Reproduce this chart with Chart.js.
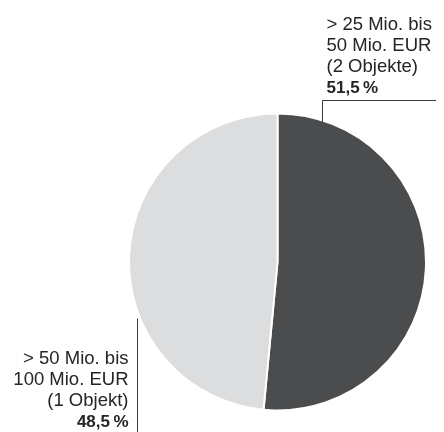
<!DOCTYPE html>
<html>
<head>
<meta charset="utf-8">
<script src="https://cdn.jsdelivr.net/npm/chart.js@4/dist/chart.umd.min.js"></script>
<style>
  html, body { margin: 0; padding: 0; background: #fff; }
  #wrap { width: 444px; height: 432px; position: relative; }
</style>
</head>
<body>
<div id="wrap"><canvas id="pie"></canvas></div>
<script>
// ========
// Data
// ========
const categories = [
    ["> 25 Mio. bis", "50 Mio. EUR", "(2 Objekte)"],
    ["> 50 Mio. bis", "100 Mio. EUR", "(1 Objekt)"]
];
const shares = [51.5, 48.5];
const shareLabels = ["51,5\u2009%", "48,5\u2009%"];
const sliceColors = ["#4b4c4e", "#dcdddf"];

const FONT = "Liberation Sans, Arial, Helvetica, sans-serif";
const LINE_H = 21;
const TEXT_FONT = "18.5px " + FONT;
const PCT_FONT = "bold 17px " + FONT;

// ── Leader lines + labels, anchored on the pie geometry ──
const labelPlugin = {
    id: "pieLabels",
    afterDraw(chart) {
        const ctx = chart.ctx;
        const arc = chart.getDatasetMeta(0).data[0];
        const { x: cx, y: cy, outerRadius: r } = arc.getProps(["x", "y", "outerRadius"], true);
        ctx.save();
        ctx.strokeStyle = "#3a3a3a";
        ctx.lineWidth = 1;
        ctx.fillStyle = "#262425";
        ctx.textBaseline = "alphabetic";

        // top-right label (first slice)
        const ax = Math.round(cx + r * 0.3) + 0.5;
        const edgeY = cy - Math.sqrt(r * r - (ax - cx) * (ax - cx));
        const topY = Math.round(cy - r - 14) + 0.5;
        ctx.beginPath();
        ctx.moveTo(ax, edgeY + 2);
        ctx.lineTo(ax, topY);
        ctx.lineTo(chart.width - 8, topY);
        ctx.stroke();
        ctx.textAlign = "left";
        const lines0 = categories[0];
        let y = topY - 8;
        ctx.font = PCT_FONT;
        ctx.fillText(shareLabels[0], ax + 4, y);
        ctx.font = TEXT_FONT;
        for (let i = lines0.length - 1; i >= 0; i--) {
            y -= LINE_H;
            ctx.fillText(lines0[i], ax + 4, y);
        }

        // bottom-left label (second slice)
        const bx = Math.round(cx - r * 0.946) + 0.5;
        const edgeY2 = cy + Math.sqrt(Math.max(r * r - (bx - cx) * (bx - cx), 0));
        ctx.beginPath();
        ctx.moveTo(bx, edgeY2 + 7);
        ctx.lineTo(bx, chart.height);
        ctx.stroke();
        ctx.textAlign = "right";
        const lines1 = categories[1];
        let y2 = chart.height - 5;
        ctx.font = PCT_FONT;
        ctx.fillText(shareLabels[1], bx - 9, y2);
        ctx.font = TEXT_FONT;
        for (let i = lines1.length - 1; i >= 0; i--) {
            y2 -= LINE_H;
            ctx.fillText(lines1[i], bx - 9, y2);
        }
        ctx.restore();
    }
};

new Chart(document.getElementById("pie"), {
    type: "pie",
    data: {
        labels: categories.map(c => c.join(" ")),
        datasets: [{
            data: shares,
            backgroundColor: sliceColors,
            borderColor: "#ffffff",
            borderWidth: 2
        }]
    },
    options: {
        responsive: true,
        maintainAspectRatio: false,
        animation: false,
        rotation: 0,
        layout: { padding: { left: 128, right: 17, top: 112, bottom: 20 } },
        plugins: {
            legend: { display: false },
            tooltip: { enabled: false }
        }
    },
    plugins: [labelPlugin]
});
</script>
</body>
</html>
